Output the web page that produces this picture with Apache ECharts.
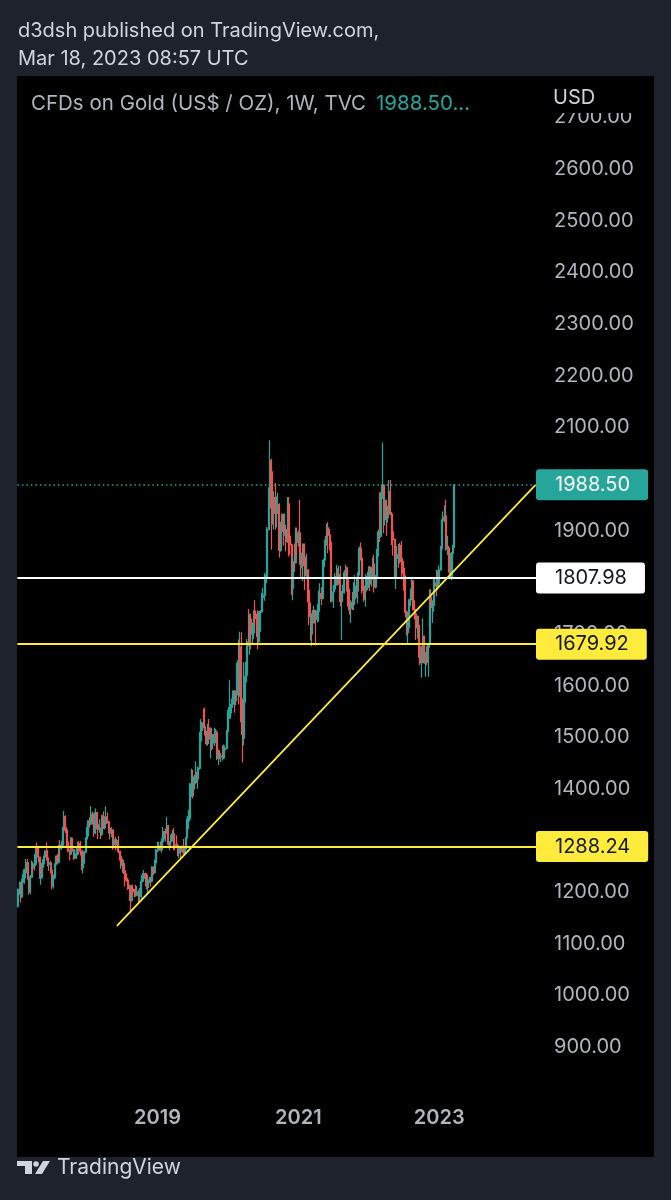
<!DOCTYPE html>
<html><head><meta charset="utf-8">
<script src="https://cdn.jsdelivr.net/npm/echarts/dist/echarts.min.js"></script>
<style>html,body{margin:0;padding:0;background:#1e222d;}#c{width:671px;height:1200px;}</style>
</head><body><div id="c"></div>
<script>
// ---- data: weekly candles [open, close, low, high] ----
const firstWeek = '2017-01-09';
const totalWeeks = 383;               // data weeks + empty future space
const yearTicks = ['2019', '2021', '2023'];

const w2017 = [
[1173,1197,1170,1207],[1197,1205,1195,1220],[1205,1191,1180,1220],
[1191,1220,1188,1226],[1220,1234,1218,1244],[1234,1238,1216,1245],[1238,1257,1227,1264],
[1257,1226,1224,1264],[1226,1201,1195,1228],[1201,1229,1196,1233],[1229,1249,1228,1261],
[1249,1247,1237,1259],[1247,1254,1242,1274],[1254,1286,1250,1289],[1286,1284,1278,1296],
[1284,1268,1258,1287],[1268,1227,1226,1268],[1227,1228,1214,1236],[1228,1255,1228,1264],
[1255,1268,1247,1271],[1268,1279,1261,1281],[1279,1266,1261,1296],[1266,1254,1250,1281],
[1254,1256,1241,1260],[1256,1242,1236,1260],[1242,1212,1205,1243],[1212,1228,1207,1234],
[1228,1254,1225,1256],[1254,1269,1248,1271],[1269,1258,1254,1274],[1258,1289,1256,1291],
[1289,1285,1267,1301],[1285,1291,1282,1299],[1291,1325,1288,1326],[1325,1346,1324,1357],
[1346,1320,1314,1349],[1320,1297,1288,1326],[1297,1280,1277,1300],[1280,1274,1261,1282],
[1274,1304,1272,1306],[1304,1280,1277,1306],[1280,1266,1262,1283],[1266,1269,1264,1284],
[1269,1274,1264,1289],[1274,1294,1271,1297],[1294,1288,1274,1299],[1288,1280,1271,1299],
[1280,1248,1243,1280],[1248,1257,1236,1262],[1257,1278,1255,1279],[1278,1303,1275,1306]
];
const w2018 = [
[1303,1321,1302,1326],[1321,1338,1308,1339],[1338,1332,1325,1345],[1332,1351,1330,1366],
[1351,1333,1331,1356],[1333,1315,1307,1341],[1315,1354,1312,1362],[1354,1330,1321,1355],
[1330,1322,1303,1335],[1322,1324,1315,1341],[1324,1312,1303,1325],[1312,1347,1309,1350],
[1347,1325,1322,1356],[1325,1333,1321,1347],[1333,1345,1330,1366],[1345,1336,1333,1354],
[1336,1323,1314,1338],[1323,1314,1302,1326],[1314,1320,1306,1326],[1320,1292,1282,1320],
[1292,1301,1285,1306],[1301,1294,1281,1307],[1294,1299,1290,1303],[1299,1279,1275,1309],
[1279,1269,1261,1280],[1269,1252,1245,1270],[1252,1255,1237,1265],[1255,1241,1235,1262],
[1241,1231,1211,1245],[1231,1223,1220,1236],[1223,1213,1204,1228],[1213,1212,1206,1218],
[1212,1184,1160,1212],[1184,1206,1182,1214],[1206,1201,1195,1214],[1201,1196,1190,1206],
[1196,1194,1191,1214],[1194,1200,1192,1212],[1200,1192,1180,1204],[1192,1203,1182,1208],
[1203,1221,1183,1233],[1221,1227,1219,1237],[1227,1235,1225,1243],[1235,1233,1211,1237],
[1233,1209,1205,1237],[1209,1222,1196,1226],[1222,1223,1217,1230],[1223,1221,1211,1229],
[1221,1248,1219,1250],[1248,1238,1233,1250],[1238,1257,1236,1263],[1257,1281,1256,1284]
];
const w2019 = [
[1281,1285,1277,1298],[1285,1289,1279,1297],[1289,1282,1280,1298],[1282,1298,1276,1304],
[1298,1317,1297,1326],[1317,1314,1302,1319],[1314,1322,1298,1323],[1322,1328,1320,1346],
[1328,1293,1290,1330],[1293,1298,1281,1299],[1298,1302,1289,1311],[1302,1313,1298,1320],
[1313,1292,1281,1324],[1292,1291,1281,1300],[1291,1290,1286,1310],[1290,1276,1270,1294],
[1276,1286,1266,1288],[1286,1280,1266,1289],[1280,1285,1278,1290],[1285,1277,1274,1303],
[1277,1284,1273,1287],[1284,1305,1279,1306],[1305,1341,1305,1348],[1341,1342,1322,1359],
[1342,1400,1337,1411],[1400,1409,1384,1439],[1409,1400,1381,1437],[1400,1416,1385,1424],
[1416,1426,1409,1453],[1426,1419,1411,1433],[1419,1440,1400,1443],[1440,1497,1437,1510],
[1497,1513,1481,1535],[1513,1527,1492,1530],[1527,1520,1517,1555],[1520,1506,1503,1557],
[1506,1488,1484,1512],[1488,1517,1484,1526],[1517,1497,1491,1535],[1497,1505,1459,1519],
[1505,1489,1474,1517],[1489,1490,1477,1499],[1490,1505,1483,1518],[1505,1509,1488,1516],
[1509,1459,1456,1513],[1459,1468,1446,1476],[1468,1462,1457,1475],[1462,1463,1452,1466],
[1463,1460,1455,1484],[1460,1476,1457,1486],[1476,1478,1471,1484],[1478,1511,1477,1514]
];
const w2020 = [
[1511,1552,1508,1553],[1552,1557,1535,1611],[1557,1558,1536,1564],[1558,1572,1546,1575],
[1572,1589,1563,1591],[1589,1570,1547,1591],[1570,1584,1562,1585],[1584,1643,1581,1649],
[1643,1585,1563,1689],[1585,1674,1578,1704],[1674,1530,1504,1703],[1530,1498,1451,1575],
[1498,1617,1484,1645],[1617,1620,1567,1646],[1620,1684,1606,1690],[1684,1683,1676,1748],
[1683,1728,1660,1739],[1728,1700,1670,1739],[1700,1702,1681,1722],[1702,1744,1690,1745],
[1744,1735,1717,1765],[1735,1730,1694,1739],[1730,1685,1670,1745],[1685,1730,1683,1744],
[1730,1743,1704,1746],[1743,1771,1741,1779],[1771,1775,1756,1789],[1775,1799,1764,1818],
[1799,1810,1795,1815],[1810,1902,1802,1907],[1902,1975,1900,1984],[1975,2035,1967,2075],
[2035,1944,1863,2039],[1944,1940,1911,2015],[1940,1964,1902,1976],[1964,1933,1902,1992],
[1933,1940,1906,1966],[1940,1950,1932,1973],[1950,1862,1848,1953],[1862,1899,1859,1917],
[1899,1930,1873,1933],[1930,1899,1871,1933],[1899,1902,1890,1933],[1902,1879,1860,1911],
[1879,1951,1876,1965],[1951,1889,1850,1965],[1889,1872,1853,1898],[1872,1788,1775,1875],
[1788,1839,1765,1848],[1839,1838,1820,1875],[1838,1881,1836,1906],[1881,1878,1855,1906],
[1878,1895,1869,1900]
];
const w2021 = [
[1895,1850,1834,1959],[1850,1828,1808,1867],[1828,1856,1802,1875],[1856,1848,1831,1875],
[1848,1813,1785,1875],[1813,1824,1810,1855],[1824,1784,1761,1825],[1784,1734,1717,1815],
[1734,1700,1687,1760],[1700,1727,1676,1740],[1727,1745,1720,1755],[1745,1733,1720,1747],
[1733,1728,1677,1741],[1728,1744,1722,1758],[1744,1777,1724,1784],[1777,1778,1763,1798],
[1778,1769,1756,1790],[1769,1831,1767,1843],[1831,1844,1808,1846],[1844,1881,1842,1890],
[1881,1905,1871,1913],[1905,1891,1856,1916],[1891,1877,1862,1903],[1877,1764,1761,1879],
[1764,1781,1761,1795],[1781,1787,1750,1795],[1787,1808,1784,1818],[1808,1811,1793,1834],
[1811,1802,1794,1827],[1802,1814,1795,1832],[1814,1763,1753,1832],[1763,1780,1688,1783],
[1780,1781,1770,1795],[1781,1818,1778,1823],[1818,1828,1810,1834],[1828,1787,1782,1830],
[1787,1754,1745,1809],[1754,1750,1737,1787],[1750,1761,1721,1765],[1761,1757,1746,1781],
[1757,1768,1746,1800],[1768,1793,1760,1814],[1793,1783,1770,1810],[1783,1818,1759,1819],
[1818,1865,1813,1869],[1865,1846,1842,1877],[1846,1792,1778,1849],[1792,1784,1762,1809],
[1784,1783,1766,1793],[1783,1798,1753,1816],[1798,1811,1785,1820],[1811,1829,1789,1831]
];
const w2022 = [
[1829,1797,1783,1831],[1797,1818,1791,1829],[1818,1835,1805,1848],[1835,1791,1780,1853],
[1791,1808,1788,1814],[1808,1859,1805,1865],[1859,1897,1850,1902],[1897,1889,1878,1974],
[1889,1966,1886,1974],[1966,1988,1961,2070],[1988,1921,1895,1990],[1921,1958,1910,1966],
[1958,1925,1890,1960],[1925,1946,1915,1948],[1946,1975,1940,1998],[1975,1932,1929,1998],
[1932,1897,1872,1936],[1897,1883,1851,1909],[1883,1811,1807,1884],[1811,1846,1787,1849],
[1846,1853,1839,1870],[1853,1851,1828,1874],[1851,1871,1836,1876],[1871,1840,1805,1880],
[1840,1827,1816,1847],[1827,1811,1784,1830],[1811,1742,1732,1813],[1742,1703,1697,1745],
[1703,1727,1681,1739],[1727,1766,1711,1768],[1766,1775,1754,1788],[1775,1802,1773,1807],
[1802,1747,1745,1804],[1747,1738,1728,1765],[1738,1712,1688,1740],[1712,1716,1691,1735],
[1716,1675,1654,1735],[1675,1644,1639,1688],[1644,1660,1615,1676],[1660,1695,1659,1730],
[1695,1644,1642,1697],[1644,1657,1617,1665],[1657,1645,1639,1676],[1645,1681,1617,1682],
[1681,1771,1673,1786],[1771,1751,1747,1787],[1751,1755,1721,1765],[1755,1797,1743,1810],
[1797,1798,1765,1810],[1798,1793,1773,1824],[1793,1798,1785,1823],[1798,1824,1797,1833]
];
const w2023 = [
[1824,1865,1822,1870],[1865,1920,1862,1922],[1920,1926,1896,1937],[1926,1928,1916,1949],
[1928,1865,1861,1960],[1865,1866,1852,1890],[1866,1842,1819,1870],[1842,1811,1809,1847],
[1811,1856,1804,1858],[1856,1868,1809,1872],[1868,1988.5,1867,1989]
];

const lastPrice = 1988.50;
const whiteLevel = 1807.98;
const yellowLevels = [1679.92, 1288.24];
const trendStart = ['2018-06-04', 1134.5];
const trendEnd = ['2024-05-06', 1988];

// ---- build ----
const candles = [].concat(w2017, w2018, w2019, w2020, w2021, w2022, w2023);
const cats = [];
for (let i = 0, t = Date.parse(firstWeek + 'T00:00:00Z'); i < totalWeeks; i++, t += 7 * 864e5) {
  cats.push(new Date(t).toISOString().slice(0, 10));
}
const yearAt = {};
cats.forEach(c => {
  const t = Date.parse(c + 'T00:00:00Z');
  const y1 = new Date(t).getUTCFullYear(), y2 = new Date(t + 6 * 864e5).getUTCFullYear();
  if ((y1 !== y2 || c.slice(5) === '01-01') && yearTicks.includes(String(y2))) yearAt[c] = String(y2);
});

const UP = '#26a69a', DOWN = '#ef5350', YEL = '#ffeb3b';
const FONT = 'Inter, Roboto, sans-serif';
function boxLabel(bg, fg) {
  return {
    show: true, position: 'end', distance: 0,
    formatter: p => Number(p.value).toFixed(2),
    backgroundColor: bg, color: fg, fontSize: 20, fontFamily: FONT,
    padding: [6, 18, 5, 19], borderRadius: 3
  };
}

const chart = echarts.init(document.getElementById('c'), null, {renderer: 'canvas'});
chart.setOption({
  backgroundColor: '#1e222d',
  animation: false,
  grid: {left: 17.4, right: 135, top: 65.7, height: 1033},
  xAxis: {
    type: 'category', data: cats, boundaryGap: true,
    axisLine: {show: false}, axisTick: {show: false}, splitLine: {show: false},
    axisLabel: {
      interval: (i, v) => !!yearAt[v], formatter: v => yearAt[v] || '',
      color: '#b2b5be', fontSize: 20, fontWeight: 600, fontFamily: FONT, margin: 9
    }
  },
  yAxis: {
    type: 'value', position: 'right', min: 800, max: 2800, interval: 100, scale: false,
    axisLine: {show: false}, axisTick: {show: false}, splitLine: {show: false},
    axisLabel: {
      formatter: v => (v === 800 || v === 2800) ? '' : v.toFixed(2),
      color: '#b2b5be', fontSize: 20, fontFamily: FONT, margin: 18, align: 'left'
    }
  },
  series: [
    {
      type: 'candlestick', data: candles, barWidth: 1.5,
      itemStyle: {color: UP, color0: DOWN, borderColor: UP, borderColor0: DOWN, borderWidth: 1.2},
      markLine: {
        silent: true, symbol: ['none', 'none'], animation: false,
        data: [
          {yAxis: yellowLevels[1], lineStyle: {color: YEL, width: 2, type: 'solid'}, label: boxLabel(YEL, '#131722')},
          {yAxis: yellowLevels[0], lineStyle: {color: YEL, width: 2, type: 'solid'}, label: boxLabel(YEL, '#131722')},
          {yAxis: whiteLevel, lineStyle: {color: '#ffffff', width: 2, type: 'solid'}, label: boxLabel('#ffffff', '#131722')},
          {yAxis: lastPrice, lineStyle: {color: UP, width: 1.5, type: [1.5, 3], opacity: 1}, label: boxLabel(UP, '#ffffff')}
        ]
      }
    },
    {
      type: 'line', z: 5, symbol: 'none', silent: true,
      data: [trendStart, trendEnd],
      lineStyle: {color: YEL, width: 1.8}
    }
  ],
  graphic: [
    {type: 'rect', z: -10, shape: {x: 17, y: 76, width: 637, height: 1081}, style: {fill: '#000000'}},
    {type: 'rect', z: 100, shape: {x: 17, y: 76, width: 637, height: 37}, style: {fill: '#000000'}},
    {type: 'text', z: 101, x: 18, y: 31, style: {text: 'd3dsh published on TradingView.com,', fill: '#d1d4dc', fontSize: 20, fontFamily: FONT, verticalAlign: 'middle'}},
    {type: 'text', z: 101, x: 18, y: 59, style: {text: 'Mar 18, 2023 08:57 UTC', fill: '#d1d4dc', fontSize: 20, fontFamily: FONT, verticalAlign: 'middle'}},
    {type: 'text', z: 101, x: 31, y: 104, style: {text: 'CFDs on Gold (US$ / OZ), 1W, TVC', fill: '#b2b5be', fontSize: 20.5, fontFamily: FONT, verticalAlign: 'middle'}},
    {type: 'text', z: 101, x: 376, y: 104, style: {text: '1988.50...', fill: UP, fontSize: 20.5, fontFamily: FONT, verticalAlign: 'middle'}},
    {type: 'text', z: 101, x: 553, y: 98, style: {text: 'USD', fill: '#d1d4dc', fontSize: 20, fontFamily: FONT, verticalAlign: 'middle'}},
    {type: 'polygon', z: 101, shape: {points: [[17,1161],[32,1161],[32,1174],[25,1174],[25,1166],[17,1166]]}, style: {fill: '#d1d4dc'}},
    {type: 'circle', z: 101, shape: {cx: 36, cy: 1164, r: 2.8}, style: {fill: '#d1d4dc'}},
    {type: 'polygon', z: 101, shape: {points: [[43,1161],[50,1161],[42,1174],[35,1174]]}, style: {fill: '#d1d4dc'}},
    {type: 'text', z: 101, x: 57, y: 1168, style: {text: 'TradingView', fill: '#d1d4dc', fontSize: 21, fontFamily: FONT, verticalAlign: 'middle'}}
  ]
});
</script></body></html>
